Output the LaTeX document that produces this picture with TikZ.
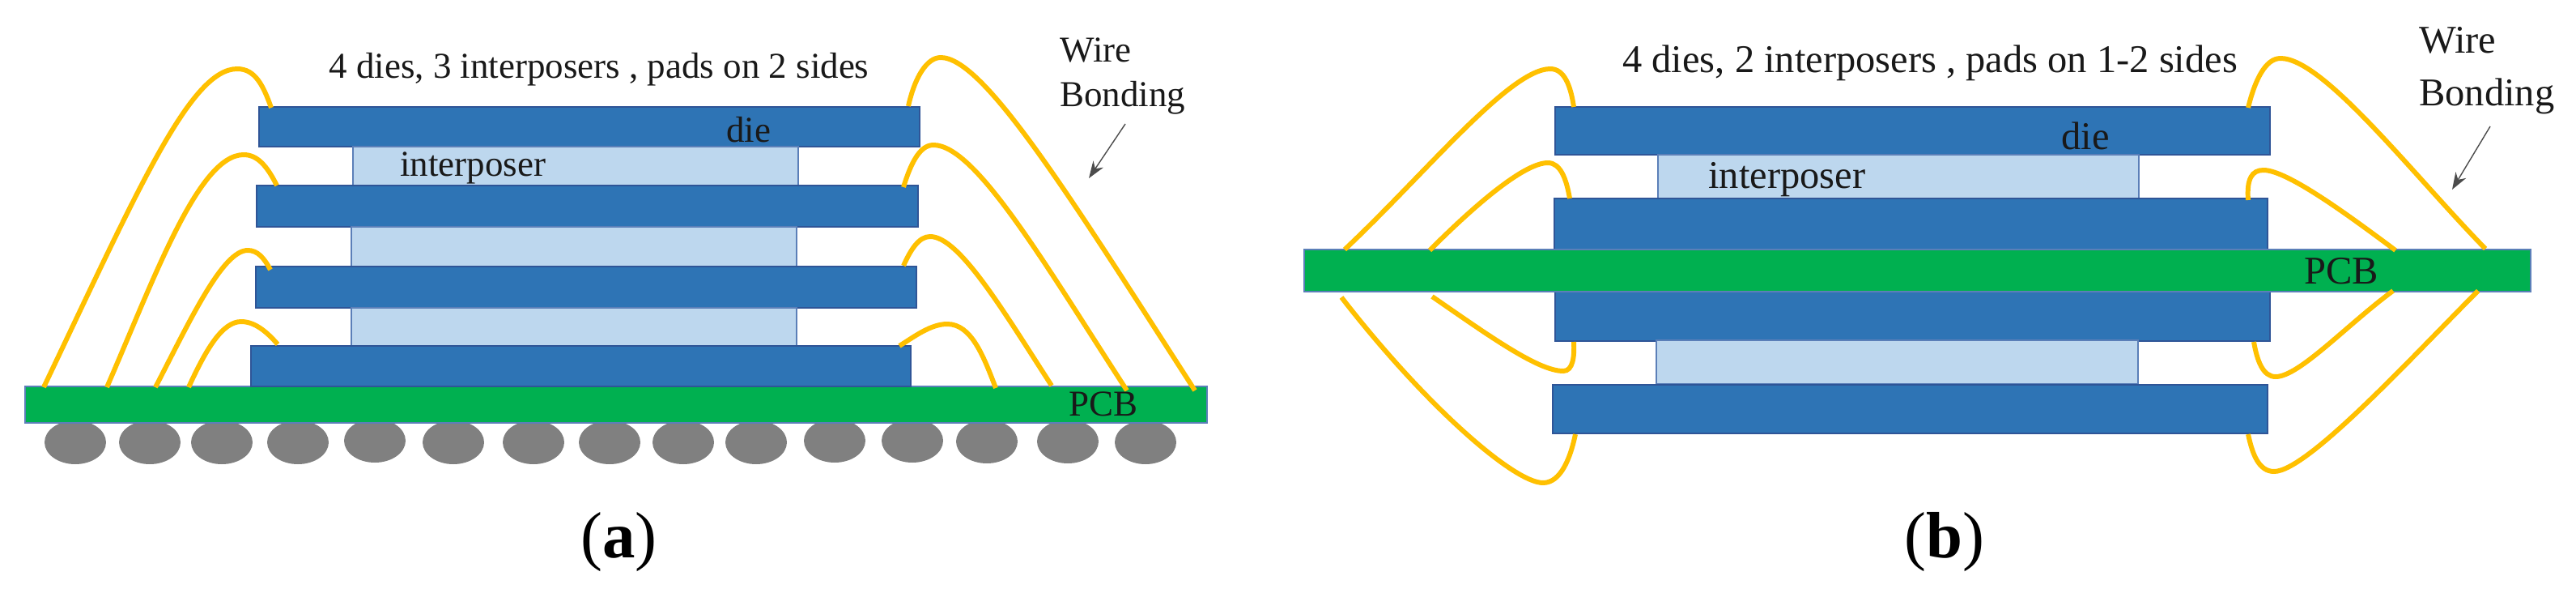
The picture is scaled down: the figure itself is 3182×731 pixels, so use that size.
\documentclass[tikz,border=0pt]{standalone}
\usepackage{fontspec}
\setmainfont{Liberation Serif}
\usetikzlibrary{arrows, arrows.meta, positioning, shapes.geometric}

\definecolor{diefill}{HTML}{2E74B5}
\definecolor{dieline}{HTML}{2F5597}
\definecolor{interfill}{HTML}{BDD7EE}
\definecolor{interline}{HTML}{5B7FB8}
\definecolor{pcbfill}{HTML}{00B050}
\definecolor{wirecol}{HTML}{FFC000}

\newcommand{\slab}[6]{\node [#1, minimum width={(#5-#3)*0.02cm}, minimum height={(#6-#4)*0.02cm}] (#2) at ({(#3+#5)/2},{(#4+#6)/2}) {};}

\begin{document}
\begin{tikzpicture}[
        x=0.02cm, y=-0.02cm,
        slabbox/.style={rectangle, inner sep=0pt, outer sep=0pt, line width=1pt},
        die/.style={slabbox, fill=diefill, draw=dieline},
        interposer/.style={slabbox, fill=interfill, draw=interline},
        pcb/.style={slabbox, fill=pcbfill, draw=interline},
        ball/.style={ellipse, fill=gray, inner sep=0pt, minimum width=1.52cm, minimum height=1.08cm},
        wire/.style={draw=wirecol, line width=3.4pt},
        pointer/.style={-{Stealth[length=0.42cm,width=0.3cm]}, black!70, line width=0.8pt},
        lblA/.style={anchor=base west, inner sep=0pt, font=\fontsize{25.6}{30}\selectfont, text=black!90},
        lblB/.style={anchor=base west, inner sep=0pt, font=\fontsize{27.6}{32}\selectfont, text=black!90},
        caption/.style={anchor=base west, inner sep=0pt, font=\fontsize{46}{52}\selectfont}]

    \useasboundingbox (0,0) rectangle (3182,731);

    % panel (a)
    \foreach \x/\y [count=\i] in {93/546,185/546,274/546,368/546,463/544,560/546,659/546,753/546,844/546,934/546,1031/544,1127/544,1219/545,1319/545,1415/546}
        \node [ball] (ba\i) at (\x,\y) {};
    \slab{pcb}{pcbA}{31}{477}{1491}{522}
    \slab{die}{dieAa}{320}{132}{1136}{181}
    \slab{interposer}{intAa}{436}{181}{986}{229}
    \slab{die}{dieAb}{317}{229}{1134}{280}
    \slab{interposer}{intAb}{434}{280}{984}{329}
    \slab{die}{dieAc}{316}{329}{1132}{380}
    \slab{interposer}{intAc}{434}{380}{984}{427}
    \slab{die}{dieAd}{310}{427}{1125}{477}

    % panel (b)
    \slab{die}{dieBa}{1921}{132}{2804}{191}
    \slab{interposer}{intBa}{2048}{191}{2642}{245}
    \slab{die}{dieBb}{1920}{245}{2801}{308}
    \slab{die}{dieBc}{1921}{360}{2804}{421}
    \slab{interposer}{intBb}{2046}{420}{2641}{474}
    \slab{die}{dieBd}{1918}{475}{2801}{535}
    \slab{pcb}{pcbB}{1611}{308}{3126}{360}

    % wire ends
    \foreach \n/\x/\y in {pa1/54/478,qa1/335/133,pa2/132/478,qa2/342/229,pa3/192/478,qa3/334/333,pa4/233/478,qa4/343/425,
        pa5/1476/482,qa5/1122/131,pa6/1392/482,qa6/1116/231,pa7/1299/476,qa7/1116/328,pa8/1230/479,qa8/1111/427,
        pb1/1661/308,qb1/1944/132,pb2/1766/309,qb2/1939/245,pb3/1769/366,qb3/1944/422,pb4/1657/367,qb4/1946/536,
        pb5/3070/307,qb5/2777/133,pb6/2959/309,qb6/2777/247,pb7/2956/359,qb7/2784/422,pb8/3061/359,qb8/2777/536}
        \coordinate (\n) at (\x,\y);

    \draw [wire] (pa1) .. controls (170,235) and (235,85) .. (293,85) .. controls (315,85) and (325,105) .. (qa1);
    \draw [wire] (pa2) .. controls (190,345) and (245,191) .. (301,191) .. controls (318,191) and (330,205) .. (qa2);
    \draw [wire] (pa3) .. controls (235,395) and (275,309) .. (306,309) .. controls (318,309) and (326,318) .. (qa3);
    \draw [wire] (pa4) .. controls (255,430) and (275,397) .. (298,397) .. controls (315,397) and (330,410) .. (qa4);
    \draw [wire] (qa5) .. controls (1130,95) and (1145,71) .. (1162,71) .. controls (1215,71) and (1320,240) .. (pa5);
    \draw [wire] (qa6) .. controls (1124,205) and (1135,179) .. (1153,179) .. controls (1205,179) and (1290,325) .. (pa6);
    \draw [wire] (qa7) .. controls (1125,308) and (1135,292) .. (1149,292) .. controls (1185,292) and (1240,385) .. (pa7);
    \draw [wire] (qa8) .. controls (1130,415) and (1150,400) .. (1170,400) .. controls (1200,400) and (1215,440) .. (pa8);

    \draw [wire] (pb1) .. controls (1760,215) and (1865,85) .. (1915,85) .. controls (1932,85) and (1940,105) .. (qb1);
    \draw [wire] (pb2) .. controls (1830,245) and (1885,201) .. (1912,201) .. controls (1928,201) and (1935,222) .. (qb2);
    \draw [wire] (pb3) .. controls (1840,415) and (1900,458) .. (1931,458) .. controls (1943,458) and (1945,440) .. (qb3);
    \draw [wire] (pb4) .. controls (1760,500) and (1870,596) .. (1906,596) .. controls (1928,596) and (1940,565) .. (qb4);
    \draw [wire] (qb5) .. controls (2785,100) and (2798,72) .. (2817,72) .. controls (2870,72) and (2980,215) .. (pb5);
    \draw [wire] (qb6) .. controls (2775,220) and (2782,210) .. (2796,210) .. controls (2825,210) and (2900,265) .. (pb6);
    \draw [wire] (pb7) .. controls (2900,400) and (2840,465) .. (2811,465) .. controls (2795,465) and (2788,445) .. (qb7);
    \draw [wire] (pb8) .. controls (2980,440) and (2850,582) .. (2809,582) .. controls (2790,582) and (2782,560) .. (qb8);

    % labels
    \node [lblA] (titleA) at (406,96) {4 dies, 3 interposers , pads on 2 sides};
    \node [lblA] (interA) at (494,217) {interposer};
    \node [lblA] (dieA) at (897,175) {die};
    \node [lblA] (pcbTextA) at (1320,513) {PCB};
    \node [lblA] (wireA) at (1309,76) {Wire};
    \node [lblA] (bondA) at (1309,131) {Bonding};
    \coordinate (arrA) at (1390,153);
    \coordinate (tipA) at (1345,220);
    \draw [pointer] (arrA) -- (tipA);
    \node [caption] (capA) at (717,688) {(\textbf{a})};

    \node [lblB] (titleB) at (2004,89) {4 dies, 2 interposers , pads on 1-2 sides};
    \node [lblB] (interB) at (2110,232) {interposer};
    \node [lblB] (dieB) at (2546,184) {die};
    \node [lblB] (pcbTextB) at (2846,350) {PCB};
    \node [lblB] (wireB) at (2988,65) {Wire};
    \node [lblB] (bondB) at (2988,130) {Bonding};
    \coordinate (arrB) at (3076,156);
    \coordinate (tipB) at (3029,234);
    \draw [pointer] (arrB) -- (tipB);
    \node [caption] (capB) at (2352,688) {(\textbf{b})};
\end{tikzpicture}
\end{document}
